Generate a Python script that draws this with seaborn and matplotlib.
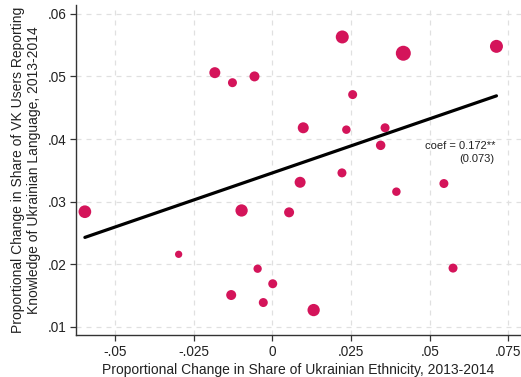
import numpy as np
import pandas as pd
import matplotlib
matplotlib.use("Agg")
import matplotlib.pyplot as plt
import seaborn as sns

# Data
eth_change = [0.0222, 0.0416, 0.0712, -0.0183, -0.0127, -0.0057, 0.0255, 0.0098,
              0.0235, 0.0358, 0.0344, 0.0088, 0.0221, 0.0545, 0.0394, -0.0596,
              -0.0098, 0.0053, -0.0298, -0.0047, 0.0574, 0.0001, -0.0131, -0.0029,
              0.0131]
lang_change = [0.0563, 0.0537, 0.0548, 0.0506, 0.0490, 0.0500, 0.0471, 0.0418,
               0.0415, 0.0418, 0.0390, 0.0331, 0.0346, 0.0329, 0.0316, 0.0284,
               0.0286, 0.0283, 0.0216, 0.0193, 0.0194, 0.0169, 0.0151, 0.0139,
               0.0127]
weight = [169, 225, 169, 121, 81, 100, 81, 121, 72, 81, 90, 121, 81, 81, 72, 161,
          151, 100, 53, 69, 81, 81, 100, 81, 151]

fit_x = [-0.0596, 0.0712]
fit_y = [0.0243, 0.0469]

x_ticks = [-0.05, -0.025, 0, 0.025, 0.05, 0.075]
x_tick_labels = ["-.05", "-.025", "0", ".025", ".05", ".075"]
y_ticks = [0.01, 0.02, 0.03, 0.04, 0.05, 0.06]
y_tick_labels = [".01", ".02", ".03", ".04", ".05", ".06"]

coef_text = "coef = 0.172**"
se_text = "(0.073)"

df = pd.DataFrame({"x": eth_change, "y": lang_change, "w": weight})
fit_df = pd.DataFrame({"x": fit_x, "y": fit_y})

sns.set_theme(style="white")
plt.rcParams["font.family"] = ["Liberation Sans", "DejaVu Sans"]

fig = plt.figure(figsize=(5.21, 3.77), dpi=100)
ax = fig.add_axes([0.146, 0.1106, 0.854, 0.8761])

wmin, wmax = min(weight), max(weight)
sns.scatterplot(data=df, x="x", y="y", size="w", sizes=(0.518 * wmin, 0.518 * wmax),
                size_norm=(wmin, wmax), color="#D4145A", linewidth=0, alpha=1,
                legend=False, ax=ax, zorder=3)
sns.lineplot(data=fit_df, x="x", y="y", color="black", linewidth=2.3, ax=ax,
             zorder=4)

ax.set_xlim(-0.0624, 0.0790)
ax.set_ylim(0.00867, 0.0614)
ax.set_xticks(x_ticks)
ax.set_xticklabels(x_tick_labels)
ax.set_yticks(y_ticks)
ax.set_yticklabels(y_tick_labels)

ax.grid(True, color="#e0e0e0", linestyle=(0, (4, 4)), linewidth=0.9)
ax.set_axisbelow(True)

for s in ["top", "right"]:
    ax.spines[s].set_visible(False)
for s in ["left", "bottom"]:
    ax.spines[s].set_color("#333333")
    ax.spines[s].set_linewidth(1.0)

ax.tick_params(axis="both", which="major", direction="out", length=4, width=0.9,
               color="#333333", labelsize=9.8, labelcolor="#222222", pad=3,
               left=True, bottom=True)

ax.set_xlabel("Proportional Change in Share of Ukrainian Ethnicity, 2013-2014",
              fontsize=10, color="#222222", labelpad=3)
ax.set_ylabel("Proportional Change in Share of VK Users Reporting\nKnowledge of Ukrainian Language, 2013-2014",
              fontsize=10, color="#222222", labelpad=5, linespacing=1.12)

ax.text(0.0710, 0.0389, coef_text, fontsize=8, color="#222222",
        ha="right", va="center")
ax.text(0.0704, 0.0368, se_text, fontsize=8, color="#222222",
        ha="right", va="center")

fig.savefig("out.png", dpi=100)
